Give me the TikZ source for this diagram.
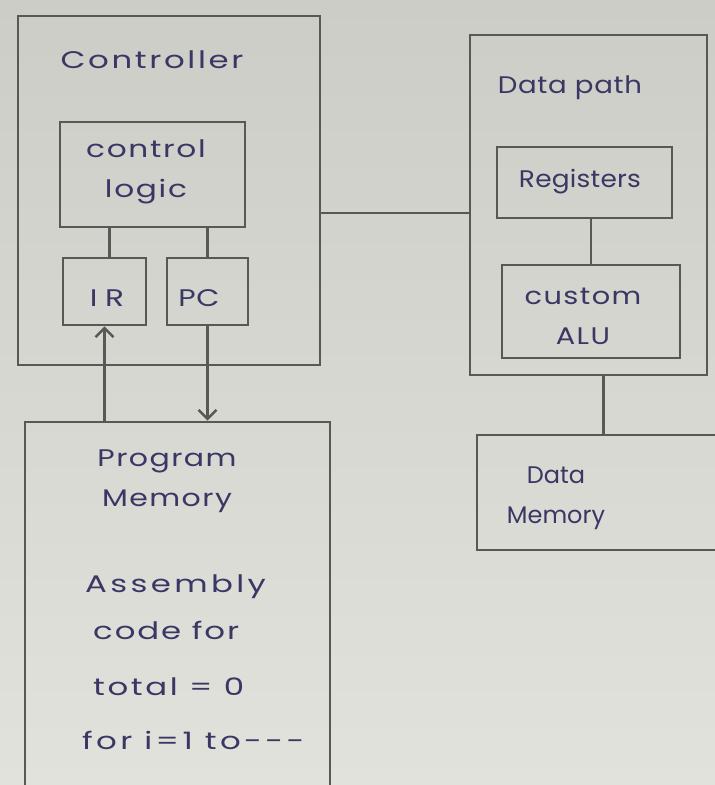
\documentclass[tikz,border=0pt]{standalone}
\usepackage{fontspec}
\usetikzlibrary{arrows.meta,calc}
\newfontfamily\hand{Poppins}
% widen the lettering: #1 = horizontal stretch, #2 = letter spacing
\newcommand{\hw}[2]{\addfontfeature{FakeStretch=#1,LetterSpace=#2}}
\definecolor{paperTop}{RGB}{204,205,199}
\definecolor{paperBot}{RGB}{226,226,221}
\definecolor{ink}{RGB}{58,55,100}
\definecolor{pencil}{RGB}{88,88,86}
\begin{document}
\begin{tikzpicture}[x=1pt,y=-1pt,
  box/.style={draw=pencil, line width=2.8pt, rectangle, inner sep=0pt},
  lbl/.style={text=ink, font=\hand\fontsize{24}{40}\selectfont, align=center, inner sep=0pt},
  wire/.style={draw=pencil, line width=2.8pt},
  arr/.style={wire, -{Straight Barb[length=9pt,width=18pt,line width=2.4pt]}}]
  % paper background
  \shade[top color=paperTop, bottom color=paperBot] (0,0) rectangle (715,785);
  \useasboundingbox (0,0) rectangle (715,785);
  \begin{scope}
  \clip (0,0) rectangle (715,785);

  % controller side
  \node[box, minimum width=302pt, minimum height=349pt] (ctrl) at (169,190.5) {};
  \node[lbl] (ctrltitle) at (152,60) {\hw{1.35}{11}Controller};
  \node[box, minimum width=185pt, minimum height=105pt] (cl) at (152.5,174.5) {};
  \node[lbl] (cltext) at (146,172) {\hw{1.3}{7}control\\\hw{1.3}{7}logic};
  \node[box, minimum width=83pt, minimum height=67pt] (ir) at (104.5,291.5) {};
  \node[lbl] (irtext) at (107,298) {\hw{1.3}{32}IR};
  \node[box, minimum width=81pt, minimum height=67pt] (pc) at (207.5,291.5) {};
  \node[lbl] (pctext) at (199,298) {\hw{1.25}{2}PC};

  % program memory
  \node[box, minimum width=305pt, minimum height=378pt] (pm) at (177.5,611) {};
  \node[lbl] (pmtitle) at (167,481) {\hw{1.25}{6}Program\\\hw{1.25}{6}Memory};
  \node[lbl, anchor=west] (asm1) at (85,587) {\hw{1.35}{14}Assembly};
  \node[lbl, anchor=west] (asm2) at (93,630) {\hw{1.35}{8}code for};
  \node[lbl, anchor=west] (asm3) at (93,687) {\hw{1.35}{11}total = 0};
  \node[lbl, anchor=west] (asm4) at (82,740) {\hw{1.35}{14}for i=1 to---};

  % data path side
  \node[box, minimum width=237pt, minimum height=340pt] (dp) at (588.5,205) {};
  \node[lbl] (dptitle) at (570,88) {\hw{1.15}{3}Data path};
  \node[box, minimum width=175pt, minimum height=71pt] (regs) at (584.5,182.5) {};
  \node[lbl] (regstext) at (580,182) {\hw{1.1}{1}Registers};
  \node[box, minimum width=178pt, minimum height=93pt] (alu) at (591,311.5) {};
  \node[lbl] (alutext) at (583,316) {\hw{1.2}{6}custom\\\hw{1.2}{6}ALU};
  \node[box, minimum width=253pt, minimum height=115pt] (dm) at (603.5,492.5) {};
  \node[lbl] (dmtext) at (556,498) {Data\\Memory};

  % connectors
  \draw[wire] ([xshift=5pt]ir.north) -- ([xshift=5pt]ir.north |- cl.south);
  \draw[wire] (pc.north) -- (pc.north |- cl.south);
  \draw[arr] (ir.south |- pm.north) -- (ir.south);
  \draw[arr] (pc.south) -- (pc.south |- pm.north);
  \coordinate (busL) at ($(ctrl.east)+(0,22.5)$);
  \draw[wire] (busL) -- (busL -| dp.west);
  \draw[wire] (alu.north) -- (alu.north |- regs.south);
  \draw[wire] (dm.north) -- (dm.north |- dp.south);
  \end{scope}
\end{tikzpicture}
\end{document}
